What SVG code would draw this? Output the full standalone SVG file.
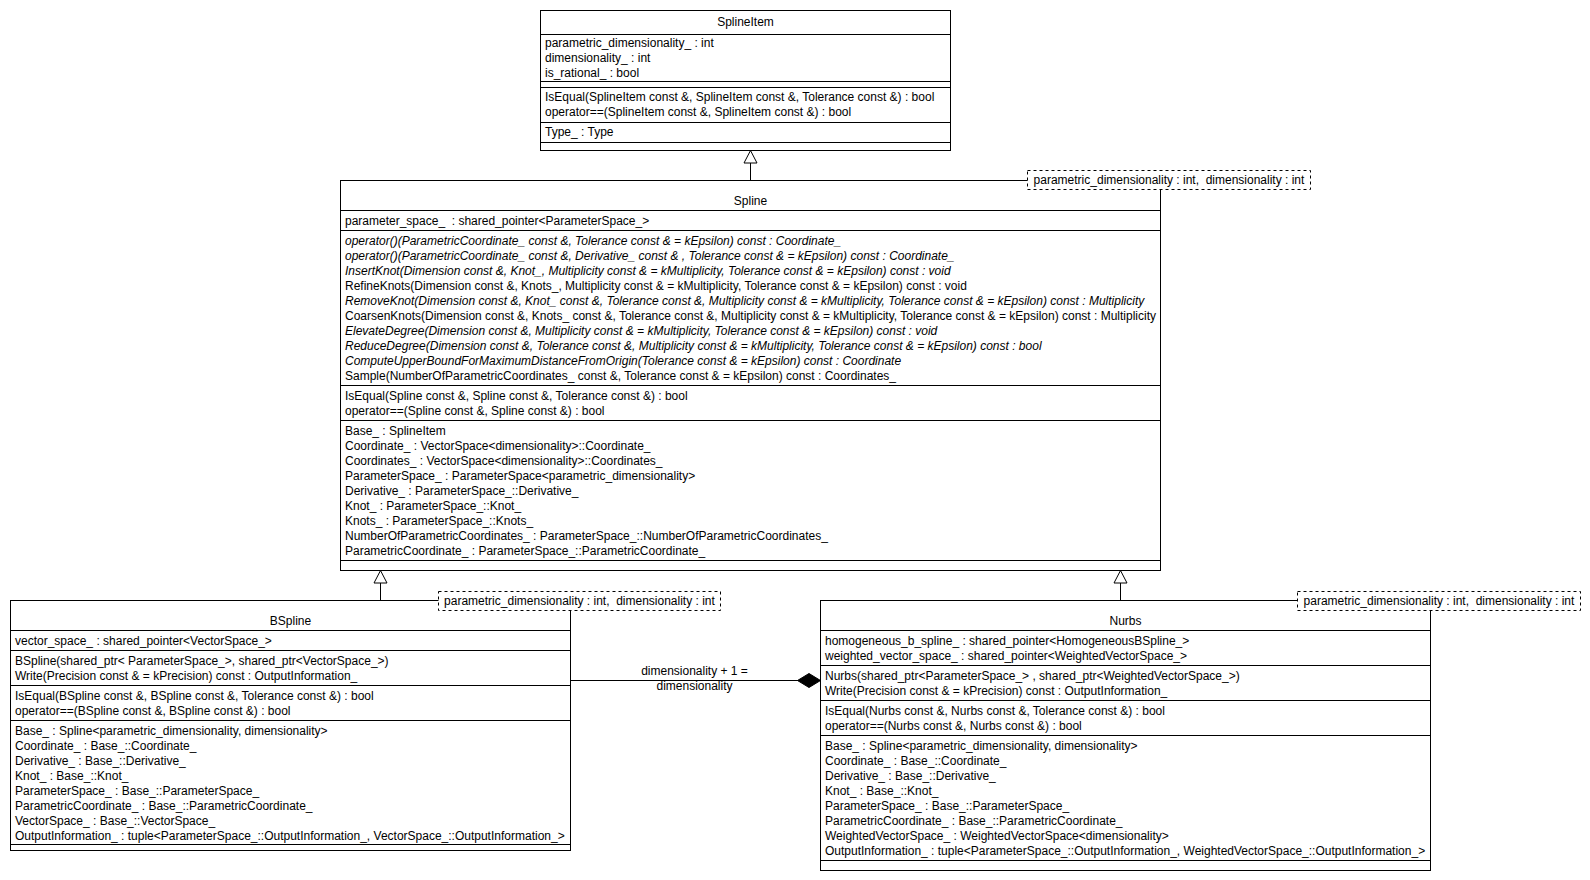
<svg xmlns="http://www.w3.org/2000/svg" width="1590" height="880" viewBox="0 0 1590 880">
<style>
.bg{fill:#fff}
.box{fill:#fff;stroke:#000;stroke-width:1}
.sep{stroke:#000;stroke-width:1}
.tmpl{fill:#fff;stroke:#000;stroke-width:1;stroke-dasharray:3 3}
text{font-family:"Liberation Sans",Arial,Helvetica,sans-serif;font-size:12px;fill:#000;white-space:pre}
.c{text-anchor:middle}
.i{font-style:italic}
.edge{fill:none;stroke:#000;stroke-width:1}
</style>
<defs>
<marker id="inh" markerUnits="userSpaceOnUse" markerWidth="16" markerHeight="16" viewBox="0 0 16 16" refX="14" refY="8" orient="auto">
<path d="M1.5,1.5 L14,8 L1.5,14.5 Z" fill="#fff" stroke="#000" stroke-width="1"/>
</marker>
<marker id="agg" markerUnits="userSpaceOnUse" markerWidth="26" markerHeight="16" viewBox="0 0 26 16" refX="24" refY="8" orient="auto">
<path d="M1,8 L12.5,1 L24,8 L12.5,15 Z" fill="#000" stroke="#000" stroke-width="1"/>
</marker>
</defs>
<rect class="bg" x="0" y="0" width="1590" height="880"/>

<g id="connectors">
<path class="edge" d="M750.5,180.5 L750.5,150.5" marker-end="url(#inh)"/>
<path class="edge" d="M380.5,600.5 L380.5,570.5" marker-end="url(#inh)"/>
<path class="edge" d="M1120.5,600.5 L1120.5,570.5" marker-end="url(#inh)"/>
<path class="edge" d="M570.5,680.5 L820.5,680.5" marker-end="url(#agg)"/>
<text class="c" x="694.5" y="675">dimensionality + 1 =</text>
<text class="c" x="694.5" y="690">dimensionality</text>
</g>

<g id="SplineItem">
<rect class="box" x="540.5" y="10.5" width="410" height="140"/>
<line class="sep" x1="540.5" y1="34.5" x2="950.5" y2="34.5"/>
<line class="sep" x1="540.5" y1="81.5" x2="950.5" y2="81.5"/>
<line class="sep" x1="540.5" y1="87.5" x2="950.5" y2="87.5"/>
<line class="sep" x1="540.5" y1="122.5" x2="950.5" y2="122.5"/>
<line class="sep" x1="540.5" y1="142.5" x2="950.5" y2="142.5"/>
<text class="c" x="745.5" y="26">SplineItem</text>
<text x="545" y="47">parametric_dimensionality_ : int</text>
<text x="545" y="62">dimensionality_ : int</text>
<text x="545" y="77">is_rational_ : bool</text>
<text x="545" y="101">IsEqual(SplineItem const &amp;, SplineItem const &amp;, Tolerance const &amp;) : bool</text>
<text x="545" y="116">operator==(SplineItem const &amp;, SplineItem const &amp;) : bool</text>
<text x="545" y="136">Type_ : Type</text>
</g>

<g id="Spline">
<rect class="box" x="340.5" y="180.5" width="820" height="390"/>
<line class="sep" x1="340.5" y1="210.5" x2="1160.5" y2="210.5"/>
<line class="sep" x1="340.5" y1="230.5" x2="1160.5" y2="230.5"/>
<line class="sep" x1="340.5" y1="385.5" x2="1160.5" y2="385.5"/>
<line class="sep" x1="340.5" y1="420.5" x2="1160.5" y2="420.5"/>
<line class="sep" x1="340.5" y1="560.5" x2="1160.5" y2="560.5"/>
<text class="c" x="750.5" y="205">Spline</text>
<text x="345" y="225">parameter_space_  : shared_pointer&lt;ParameterSpace_&gt;</text>
<text class="i" x="345" y="245">operator()(ParametricCoordinate_ const &amp;, Tolerance const &amp; = kEpsilon) const : Coordinate_</text>
<text class="i" x="345" y="260">operator()(ParametricCoordinate_ const &amp;, Derivative_ const &amp; , Tolerance const &amp; = kEpsilon) const : Coordinate_</text>
<text class="i" x="345" y="275">InsertKnot(Dimension const &amp;, Knot_, Multiplicity const &amp; = kMultiplicity, Tolerance const &amp; = kEpsilon) const : void</text>
<text x="345" y="290">RefineKnots(Dimension const &amp;, Knots_, Multiplicity const &amp; = kMultiplicity, Tolerance const &amp; = kEpsilon) const : void</text>
<text class="i" x="345" y="305">RemoveKnot(Dimension const &amp;, Knot_ const &amp;, Tolerance const &amp;, Multiplicity const &amp; = kMultiplicity, Tolerance const &amp; = kEpsilon) const : Multiplicity</text>
<text x="345" y="320">CoarsenKnots(Dimension const &amp;, Knots_ const &amp;, Tolerance const &amp;, Multiplicity const &amp; = kMultiplicity, Tolerance const &amp; = kEpsilon) const : Multiplicity</text>
<text class="i" x="345" y="335">ElevateDegree(Dimension const &amp;, Multiplicity const &amp; = kMultiplicity, Tolerance const &amp; = kEpsilon) const : void</text>
<text class="i" x="345" y="350">ReduceDegree(Dimension const &amp;, Tolerance const &amp;, Multiplicity const &amp; = kMultiplicity, Tolerance const &amp; = kEpsilon) const : bool</text>
<text class="i" x="345" y="365">ComputeUpperBoundForMaximumDistanceFromOrigin(Tolerance const &amp; = kEpsilon) const : Coordinate</text>
<text x="345" y="380">Sample(NumberOfParametricCoordinates_ const &amp;, Tolerance const &amp; = kEpsilon) const : Coordinates_</text>
<text x="345" y="400">IsEqual(Spline const &amp;, Spline const &amp;, Tolerance const &amp;) : bool</text>
<text x="345" y="415">operator==(Spline const &amp;, Spline const &amp;) : bool</text>
<text x="345" y="435">Base_ : SplineItem</text>
<text x="345" y="450">Coordinate_ : VectorSpace&lt;dimensionality&gt;::Coordinate_</text>
<text x="345" y="465">Coordinates_ : VectorSpace&lt;dimensionality&gt;::Coordinates_</text>
<text x="345" y="480">ParameterSpace_ : ParameterSpace&lt;parametric_dimensionality&gt;</text>
<text x="345" y="495">Derivative_ : ParameterSpace_::Derivative_</text>
<text x="345" y="510">Knot_ : ParameterSpace_::Knot_</text>
<text x="345" y="525">Knots_ : ParameterSpace_::Knots_</text>
<text x="345" y="540">NumberOfParametricCoordinates_ : ParameterSpace_::NumberOfParametricCoordinates_</text>
<text x="345" y="555">ParametricCoordinate_ : ParameterSpace_::ParametricCoordinate_</text>
</g>

<g id="BSpline">
<rect class="box" x="10.5" y="600.5" width="560" height="250"/>
<line class="sep" x1="10.5" y1="630.5" x2="570.5" y2="630.5"/>
<line class="sep" x1="10.5" y1="650.5" x2="570.5" y2="650.5"/>
<line class="sep" x1="10.5" y1="685.5" x2="570.5" y2="685.5"/>
<line class="sep" x1="10.5" y1="720.5" x2="570.5" y2="720.5"/>
<line class="sep" x1="10.5" y1="844.5" x2="570.5" y2="844.5"/>
<text class="c" x="290.5" y="625">BSpline</text>
<text x="15" y="645">vector_space_ : shared_pointer&lt;VectorSpace_&gt;</text>
<text x="15" y="665">BSpline(shared_ptr&lt; ParameterSpace_&gt;, shared_ptr&lt;VectorSpace_&gt;)</text>
<text x="15" y="680">Write(Precision const &amp; = kPrecision) const : OutputInformation_</text>
<text x="15" y="700">IsEqual(BSpline const &amp;, BSpline const &amp;, Tolerance const &amp;) : bool</text>
<text x="15" y="715">operator==(BSpline const &amp;, BSpline const &amp;) : bool</text>
<text x="15" y="735">Base_ : Spline&lt;parametric_dimensionality, dimensionality&gt;</text>
<text x="15" y="750">Coordinate_ : Base_::Coordinate_</text>
<text x="15" y="765">Derivative_ : Base_::Derivative_</text>
<text x="15" y="780">Knot_ : Base_::Knot_</text>
<text x="15" y="795">ParameterSpace_ : Base_::ParameterSpace_</text>
<text x="15" y="810">ParametricCoordinate_ : Base_::ParametricCoordinate_</text>
<text x="15" y="825">VectorSpace_ : Base_::VectorSpace_</text>
<text x="15" y="840">OutputInformation_ : tuple&lt;ParameterSpace_::OutputInformation_, VectorSpace_::OutputInformation_&gt;</text>
</g>

<g id="Nurbs">
<rect class="box" x="820.5" y="600.5" width="610" height="270"/>
<line class="sep" x1="820.5" y1="630.5" x2="1430.5" y2="630.5"/>
<line class="sep" x1="820.5" y1="665.5" x2="1430.5" y2="665.5"/>
<line class="sep" x1="820.5" y1="700.5" x2="1430.5" y2="700.5"/>
<line class="sep" x1="820.5" y1="735.5" x2="1430.5" y2="735.5"/>
<line class="sep" x1="820.5" y1="860.5" x2="1430.5" y2="860.5"/>
<text class="c" x="1125.5" y="625">Nurbs</text>
<text x="825" y="645">homogeneous_b_spline_ : shared_pointer&lt;HomogeneousBSpline_&gt;</text>
<text x="825" y="660">weighted_vector_space_ : shared_pointer&lt;WeightedVectorSpace_&gt;</text>
<text x="825" y="680">Nurbs(shared_ptr&lt;ParameterSpace_&gt; , shared_ptr&lt;WeightedVectorSpace_&gt;)</text>
<text x="825" y="695">Write(Precision const &amp; = kPrecision) const : OutputInformation_</text>
<text x="825" y="715">IsEqual(Nurbs const &amp;, Nurbs const &amp;, Tolerance const &amp;) : bool</text>
<text x="825" y="730">operator==(Nurbs const &amp;, Nurbs const &amp;) : bool</text>
<text x="825" y="750">Base_ : Spline&lt;parametric_dimensionality, dimensionality&gt;</text>
<text x="825" y="765">Coordinate_ : Base_::Coordinate_</text>
<text x="825" y="780">Derivative_ : Base_::Derivative_</text>
<text x="825" y="795">Knot_ : Base_::Knot_</text>
<text x="825" y="810">ParameterSpace_ : Base_::ParameterSpace_</text>
<text x="825" y="825">ParametricCoordinate_ : Base_::ParametricCoordinate_</text>
<text x="825" y="840">WeightedVectorSpace_ : WeightedVectorSpace&lt;dimensionality&gt;</text>
<text x="825" y="855">OutputInformation_ : tuple&lt;ParameterSpace_::OutputInformation_, WeightedVectorSpace_::OutputInformation_&gt;</text>
</g>

<g id="SplineTemplate">
<rect class="tmpl" x="1027.5" y="170.5" width="283" height="19"/>
<text class="c" x="1169" y="184">parametric_dimensionality : int,  dimensionality : int</text>
</g>
<g id="BSplineTemplate">
<rect class="tmpl" x="438.5" y="591.5" width="282" height="19"/>
<text class="c" x="579.5" y="605">parametric_dimensionality : int,  dimensionality : int</text>
</g>
<g id="NurbsTemplate">
<rect class="tmpl" x="1297.5" y="591.5" width="283" height="19"/>
<text class="c" x="1439" y="605">parametric_dimensionality : int,  dimensionality : int</text>
</g>
</svg>
